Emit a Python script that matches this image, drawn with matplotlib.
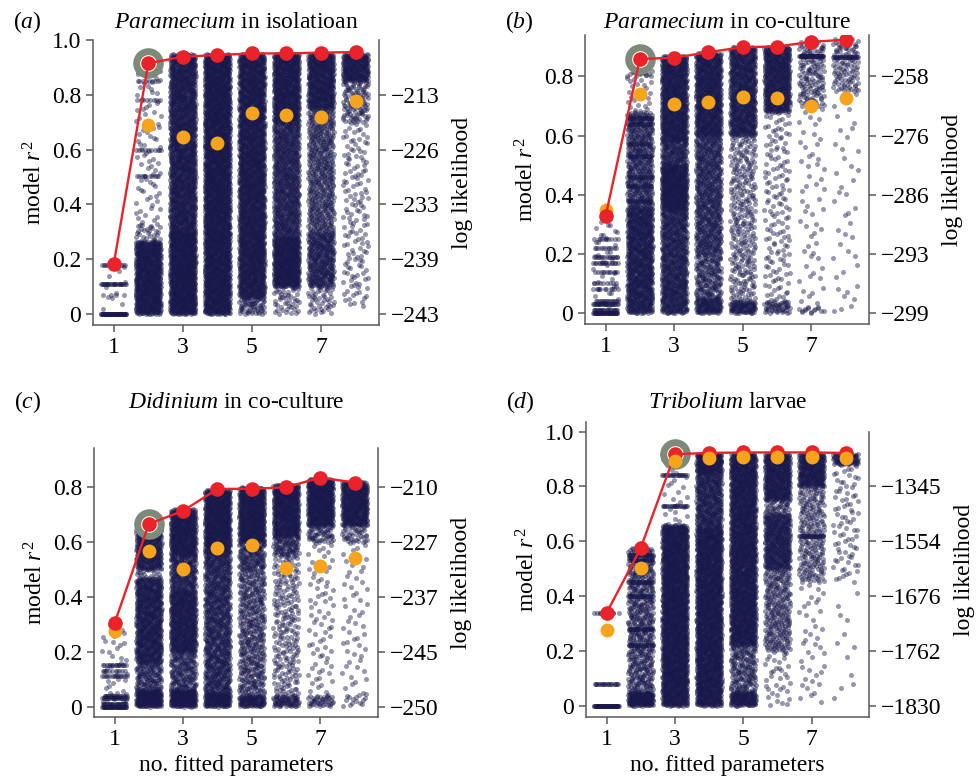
import matplotlib
matplotlib.use("Agg")
import matplotlib.pyplot as plt
import numpy as np

plt.rcParams.update({"font.family": "Liberation Serif", "font.size": 17,
                     "mathtext.fontset": "custom",
                     "mathtext.rm": "Liberation Serif",
                     "mathtext.it": "Liberation Serif:italic",
                     "axes.edgecolor": "0.35", "xtick.color": "0.35",
                     "ytick.color": "0.35", "xtick.labelcolor": "black",
                     "ytick.labelcolor": "black"})

NPARAM = np.arange(1, 9)

# best model r^2 per number of fitted parameters (red line)
BEST_A = [0.182, 0.915, 0.939, 0.945, 0.951, 0.951, 0.954, 0.956]
BEST_B = [0.327, 0.859, 0.863, 0.882, 0.899, 0.901, 0.917, 0.924]
BEST_C = [0.304, 0.666, 0.714, 0.794, 0.794, 0.800, 0.835, 0.817]
BEST_D = [0.338, 0.575, 0.918, 0.922, 0.924, 0.924, 0.924, 0.922]

# orange points
ORANGE_A = [np.nan, 0.690, 0.646, 0.624, 0.732, 0.726, 0.720, 0.777]
ORANGE_B = [0.347, 0.741, 0.706, 0.715, 0.729, 0.726, 0.701, 0.726]
ORANGE_C = [0.274, 0.568, 0.502, 0.578, 0.588, 0.505, 0.513, 0.543]
ORANGE_D = [0.275, 0.504, 0.894, 0.903, 0.906, 0.906, 0.906, 0.905]

# selected model (grey ring) : number of parameters
SEL = {"a": 2, "b": 2, "c": 2, "d": 3}

# right-axis log-likelihood labels at r^2 = 0, .2, .4, .6, .8
LL_A = ["\u2212243", "\u2212239", "\u2212233", "\u2212226", "\u2212213"]
LL_B = ["\u2212299", "\u2212293", "\u2212286", "\u2212276", "\u2212258"]
LL_C = ["\u2212250", "\u2212245", "\u2212237", "\u2212227", "\u2212210"]
LL_D = ["\u22121830", "\u22121762", "\u22121676", "\u22121554", "\u22121345"]

# all fitted models: r^2 bands per column, (low, high, count); low == high is a stripe
CLOUD_A = [
    [(0, 0, 60), (0, 0.18, 12), (0.11, 0.11, 25), (0.18, 0.18, 12), (0.07, 0.07, 4)],
    [(0, 0.265, 700), (0.265, 0.33, 30), (0.33, 0.9, 80), (0.505, 0.505, 10),
     (0.6, 0.6, 10), (0.78, 0.78, 8), (0.85, 0.85, 8), (0.88, 0.9, 10)],
    [(0, 0.3, 900), (0.3, 0.95, 1500)],
    [(0, 0.95, 2600)],
    [(0, 0.06, 60), (0.06, 0.95, 2300)],
    [(0, 0.1, 45), (0.1, 0.28, 500), (0.28, 0.7, 750), (0.7, 0.95, 650)],
    [(0, 0.1, 45), (0.1, 0.3, 350), (0.3, 0.75, 500), (0.75, 0.95, 500)],
    [(0.03, 0.7, 150), (0.7, 0.85, 110), (0.85, 0.95, 240)],
]
CLOUD_B = [
    [(0, 0, 40), (0.01, 0.01, 20), (0.03, 0.03, 25), (0.04, 0.04, 15), (0, 0.31, 40),
     (0.08, 0.08, 10), (0.1, 0.1, 8), (0.14, 0.14, 10), (0.17, 0.17, 15),
     (0.19, 0.19, 15), (0.22, 0.22, 10), (0.25, 0.25, 10)],
    [(0, 0.36, 850), (0.36, 0.68, 450), (0.38, 0.38, 15), (0.43, 0.43, 15),
     (0.46, 0.46, 15), (0.53, 0.53, 15), (0.57, 0.57, 12), (0.64, 0.64, 15),
     (0.66, 0.66, 15), (0.68, 0.8, 25), (0.8, 0.82, 15)],
    [(0, 0.1, 220), (0.1, 0.35, 500), (0.35, 0.5, 450), (0.5, 0.58, 150), (0.58, 0.87, 750)],
    [(0, 0.05, 120), (0.05, 0.2, 180), (0.2, 0.6, 650), (0.6, 0.88, 700)],
    [(0, 0.04, 90), (0.04, 0.6, 300), (0.6, 0.9, 700)],
    [(0, 0.04, 50), (0.04, 0.68, 150), (0.68, 0.9, 550)],
    [(0, 0.02, 15), (0.02, 0.7, 55), (0.7, 0.92, 150), (0.868, 0.868, 40)],
    [(0, 0.1, 8), (0.1, 0.75, 35), (0.75, 0.93, 110), (0.865, 0.865, 25)],
]
CLOUD_C = [
    [(0, 0, 40), (0.01, 0.01, 20), (0.03, 0.03, 20), (0.04, 0.04, 15), (0, 0.05, 20),
     (0.11, 0.11, 15), (0.13, 0.13, 10), (0.15, 0.15, 15), (0.05, 0.3, 30)],
    [(0, 0.06, 200), (0.06, 0.16, 130), (0.16, 0.47, 700), (0.47, 0.5, 15), (0.5, 0.65, 320)],
    [(0, 0.06, 200), (0.06, 0.2, 180), (0.2, 0.42, 550), (0.42, 0.55, 230), (0.55, 0.72, 450)],
    [(0, 0.05, 150), (0.05, 0.5, 750), (0.5, 0.56, 110), (0.56, 0.79, 650)],
    [(0, 0.04, 100), (0.04, 0.5, 450), (0.5, 0.6, 140), (0.6, 0.8, 550)],
    [(0, 0.04, 70), (0.04, 0.55, 230), (0.55, 0.62, 90), (0.62, 0.81, 500)],
    [(0, 0.04, 40), (0.04, 0.6, 75), (0.6, 0.66, 55), (0.66, 0.83, 480)],
    [(0, 0.05, 15), (0.05, 0.6, 55), (0.6, 0.66, 40), (0.66, 0.82, 420)],
]
CLOUD_D = [
    [(0, 0, 60), (0.08, 0.08, 20), (0.34, 0.34, 10)],
    [(0, 0.05, 150), (0.05, 0.58, 550), (0.22, 0.22, 20), (0.28, 0.28, 25),
     (0.4, 0.4, 20), (0.45, 0.45, 20), (0.53, 0.53, 20), (0.55, 0.55, 20)],
    [(0, 0.66, 1800), (0.66, 0.9, 25), (0.73, 0.73, 20), (0.84, 0.84, 20), (0.9, 0.92, 60)],
    [(0, 0.65, 1700), (0.65, 0.85, 380), (0.85, 0.92, 200)],
    [(0, 0.05, 130), (0.05, 0.22, 170), (0.22, 0.92, 1800)],
    [(0, 0.2, 35), (0.2, 0.5, 260), (0.5, 0.7, 420), (0.7, 0.75, 40), (0.75, 0.92, 420)],
    [(0, 0.45, 40), (0.45, 0.8, 230), (0.62, 0.62, 25), (0.8, 0.92, 300)],
    [(0, 0.45, 12), (0.45, 0.88, 80), (0.88, 0.92, 80)],
]

NAVY = "#18184c"
RED = "#ea2229"
ORANGE = "#f6a41c"
RING = "#7e8a79"

# panel: (letter, title parts, data..., axes rect in figure px [l, t, r, b], ylim, left ticks)
PANELS = [
    ("a", "Paramecium", " in isolatioan", BEST_A, ORANGE_A, CLOUD_A, LL_A,
     (93, 40, 379, 325), (-0.04, 1.0), [0, 0.2, 0.4, 0.6, 0.8, 1.0], 1.0),
    ("b", "Paramecium", " in co-culture", BEST_B, ORANGE_B, CLOUD_B, LL_B,
     (585, 35, 869, 324), (-0.037, 0.94), [0, 0.2, 0.4, 0.6, 0.8], 0.94),
    ("c", "Didinium", " in co-culture", BEST_C, ORANGE_C, CLOUD_C, LL_C,
     (94, 448, 378, 717), (-0.038, 0.943), [0, 0.2, 0.4, 0.6, 0.8], 0.943),
    ("d", "Tribolium", " larvae", BEST_D, ORANGE_D, CLOUD_D, LL_D,
     (586, 422, 869, 717), (-0.041, 1.035), [0, 0.2, 0.4, 0.6, 0.8, 1.0], 1.0),
]

W, H = 980, 778
fig = plt.figure(figsize=(W / 100, H / 100), dpi=100)


def halton(idx, base):
    idx = idx.copy()
    out = np.zeros(len(idx))
    f = 1.0
    while np.any(idx > 0):
        f /= base
        out += f * (idx % base)
        idx //= base
    return out


def cloud_points(col, bands):
    # spread each band's models over its r^2 range, strip-plot jitter in x
    xs, ys = [], []
    for b, (lo, hi, n) in enumerate(bands):
        k = np.arange(n) + 1 + 53 * b + 17 * col
        ys.append(lo + (hi - lo) * halton(k, 3))
        xs.append(col + 0.37 * (2 * halton(k, 2) - 1))
    return np.concatenate(xs), np.concatenate(ys)


for (letter, sp, rest, best, orange, cloud, ll, (l, t, r, b), ylim, yt,
     rtop) in PANELS:
    ax = fig.add_axes([l / W, 1 - b / H, (r - l) / W, (b - t) / H])
    for col, bands in zip(NPARAM, cloud):
        x, y = cloud_points(col, bands)
        ax.scatter(x, y, s=13, color=NAVY, alpha=0.45, linewidths=0, zorder=2,
                   rasterized=True)
    sel = SEL[letter]
    ax.plot(sel, best[sel - 1], "o", ms=17, mfc="white", mec=RING, mew=5, zorder=3)
    zo = 6 if letter == "d" else 4
    ax.plot(NPARAM, orange, "o", ms=9, color=ORANGE, zorder=zo, lw=0)
    ax.plot(NPARAM, best, "-o", ms=9.5, color=RED, lw=1.7, zorder=5)

    ax.set_xlim(0.4, 8.68)
    ax.set_ylim(*ylim)
    ax.set_xticks([1, 3, 5, 7])
    ax.set_yticks(yt, ["0" if v == 0 else f"{v:.1f}" for v in yt])
    ax.tick_params(direction="out", length=5, width=1.1)
    for s in ax.spines.values():
        s.set_linewidth(1.1)
    ax.spines["top"].set_visible(False)
    ax.spines["right"].set_visible(False)
    ax.set_ylabel(r"model $r^2$", labelpad=4)
    if letter in "cd":
        ax.set_xlabel("no. fitted parameters", labelpad=4)

    ax2 = ax.twinx()
    ax2.set_ylim(*ylim)
    ax2.set_yticks([0, 0.2, 0.4, 0.6, 0.8], ll)
    ax2.tick_params(direction="out", length=5, width=1.1)
    for s in ("top", "left", "bottom"):
        ax2.spines[s].set_visible(False)
    ax2.spines["right"].set_linewidth(1.1)
    ax2.spines["right"].set_bounds(ylim[0], rtop)
    ax2.set_ylabel("log likelihood", labelpad=9)

    cx = (l + r) / 2 / W
    ty = 1 - (22 if t < 100 else 402) / H
    fig.text((l - 80) / W, ty, rf"($\mathit{{{letter}}}$)", ha="left", va="center")
    fig.text(cx, ty, rf"$\mathit{{{sp}}}$" + rest, ha="center", va="center")

fig.savefig("out.png", dpi=100)
